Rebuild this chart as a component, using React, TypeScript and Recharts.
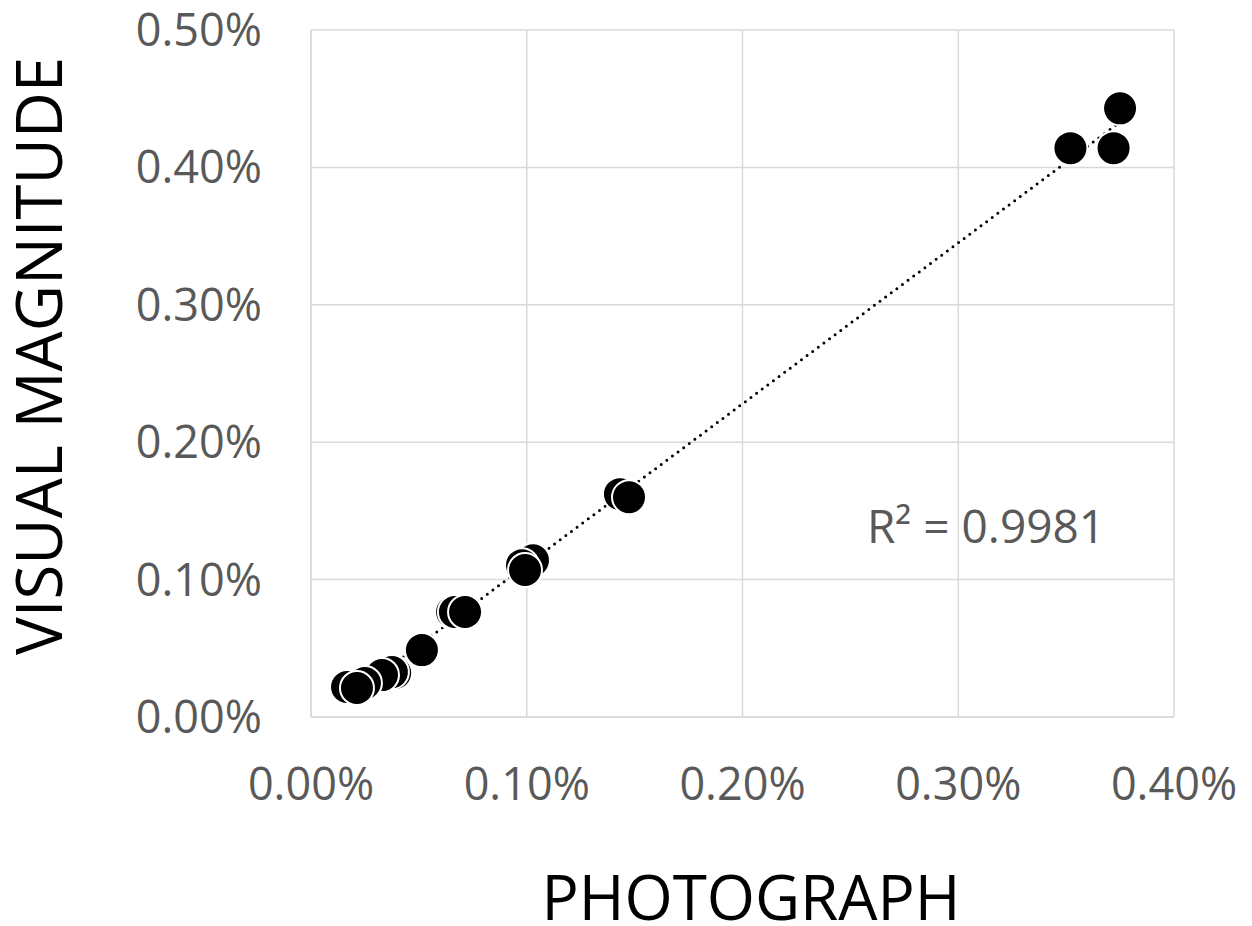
import { CartesianGrid, Customized, Scatter, ScatterChart, XAxis, YAxis } from "recharts";

// values in percent
const photograph = [
  0.375, 0.372, 0.352, 0.1432, 0.1474, 0.1029, 0.0978, 0.0992, 0.0654, 0.0667, 0.0714, 0.0514, 0.039, 0.0375,
  0.0329, 0.025, 0.0167, 0.0213,
];
const visualMagnitude = [
  0.443, 0.414, 0.414, 0.1622, 0.16, 0.114, 0.1105, 0.107, 0.0764, 0.0764, 0.0764, 0.0487, 0.032, 0.0327, 0.0305,
  0.0247, 0.0218, 0.0211,
];
const xTicks = [0, 0.1, 0.2, 0.3, 0.4];
const yTicks = [0, 0.1, 0.2, 0.3, 0.4, 0.5];
const rSquaredLabel = "R² = 0.9981";

const points = photograph.map((x, i) => ({ x, y: visualMagnitude[i] }));

// least squares trendline over the data range
const n = points.length;
const mx = photograph.reduce((a, b) => a + b, 0) / n;
const my = visualMagnitude.reduce((a, b) => a + b, 0) / n;
const slope =
  points.reduce((a, p) => a + (p.x - mx) * (p.y - my), 0) / points.reduce((a, p) => a + (p.x - mx) ** 2, 0);
const intercept = my - slope * mx;
const xMin = Math.min(...photograph);
const xMax = Math.max(...photograph);
const trend = [
  { x: xMin, y: intercept + slope * xMin },
  { x: xMax, y: intercept + slope * xMax },
];

const font = "'Open Sans', sans-serif";
const tickStyle = { fontFamily: font, fontSize: 45, fill: "#595959" };
const titleStyle = { fontFamily: font, fontSize: 62, fill: "#000" };
const fmt = (v: number) => `${v.toFixed(2)}%`;

const Dot = (props: any) => <circle cx={props.cx} cy={props.cy} r={17} fill="#000" stroke="#fff" strokeWidth={2} />;

export default function App() {
  return (
    <div style={{ position: "absolute", left: 0, top: 0, background: "#fff" }}>
      <ScatterChart width={1252} height={926} margin={{ top: 30, right: 78, bottom: 0, left: 0 }}>
        <CartesianGrid stroke="#d9d9d9" strokeWidth={1.5} />
        <XAxis
          type="number"
          dataKey="x"
          domain={[0, 0.4]}
          ticks={xTicks}
          tickFormatter={fmt}
          height={209}
          tickLine={false}
          tickSize={0}
          tickMargin={51}
          axisLine={{ stroke: "#d9d9d9", strokeWidth: 1.5 }}
          tick={tickStyle}
        />
        <YAxis
          type="number"
          dataKey="y"
          domain={[0, 0.5]}
          ticks={yTicks}
          tickFormatter={fmt}
          width={311}
          tickLine={false}
          tickSize={0}
          tickMargin={49}
          axisLine={{ stroke: "#d9d9d9", strokeWidth: 1.5 }}
          tick={tickStyle}
        />
        <Scatter
          data={trend}
          isAnimationActive={false}
          line={{ stroke: "#000", strokeWidth: 3, strokeDasharray: "0 7", strokeLinecap: "round" }}
          shape={() => null}
        />
        <Scatter data={points} isAnimationActive={false} shape={Dot} />
        <Customized
          component={() => (
            <g>
              <text
                x={986}
                y={525}
                textAnchor="middle"
                dominantBaseline="central"
                style={{ ...tickStyle, fontSize: 46 }}
              >
                {rSquaredLabel}
              </text>
              <text x={751} y={920} textAnchor="middle" style={titleStyle}>
                PHOTOGRAPH
              </text>
              <text
                x={62}
                y={356}
                textAnchor="middle"
                transform="rotate(-90 62 356)"
                style={{ ...titleStyle, fontSize: 63.5 }}
              >
                VISUAL MAGNITUDE
              </text>
            </g>
          )}
        />
      </ScatterChart>
    </div>
  );
}
